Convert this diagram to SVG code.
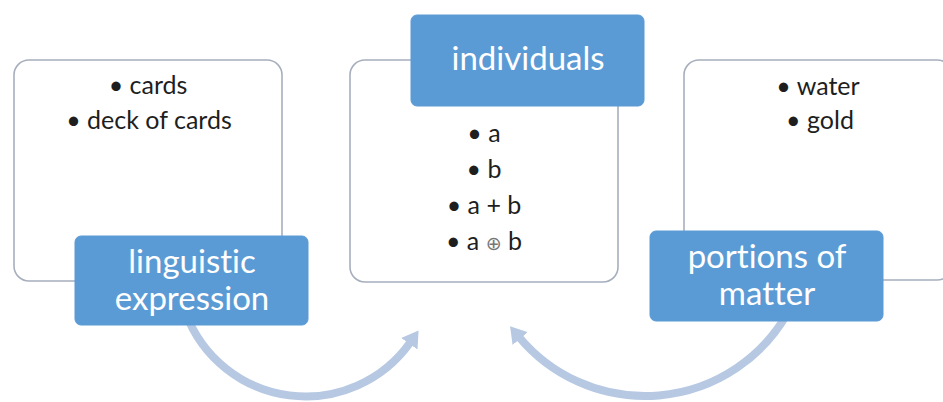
<svg xmlns="http://www.w3.org/2000/svg" width="943" height="402" viewBox="0 0 943 402">
<style>
.frame{fill:#ffffff;stroke:#a7afbd;stroke-width:1.6}
.lab{fill:#5b9bd5;stroke:#5b9bd5;stroke-width:1}
.lt{font-family:Lato,"Open Sans",sans-serif;font-size:33px;fill:#ffffff;text-anchor:middle;font-variant-ligatures:none}
.bt{font-family:Lato,"Open Sans",sans-serif;font-size:25px;fill:#1e1e1e;text-anchor:middle;font-variant-ligatures:none}
.arc{fill:none;stroke:#b6c8e2;stroke-width:8;stroke-linecap:butt}
</style>
<defs>
<marker id="ah" markerUnits="userSpaceOnUse" markerWidth="24" markerHeight="24" refX="2" refY="12" orient="auto">
<path d="M0,2 L16,12 L0,22 Z" fill="#b6c8e2"/>
</marker>
</defs>
<rect width="943" height="402" fill="#ffffff"/>
<g id="connectors">
<path class="arc" d="M185.7,312.8 A128,128 0 0 0 410.5,342" marker-end="url(#ah)"/>
<path class="arc" d="M787,314 A164,164 0 0 1 519,337" marker-end="url(#ah)"/>
</g>
<g id="node-linguistic">
<rect class="frame" x="14" y="60" width="268" height="221" rx="15"/>
<text class="bt" x="148" y="94">• cards</text>
<text class="bt" x="149" y="129">• deck of cards</text>
<rect class="lab" x="75" y="236" width="233" height="89" rx="6"/>
<text class="lt" x="192" y="273">linguistic</text>
<text class="lt" x="192" y="310">expression</text>
</g>
<g id="node-individuals">
<rect class="frame" x="350" y="60" width="268" height="222" rx="15"/>
<rect class="lab" x="411" y="15" width="233" height="91" rx="6"/>
<text class="lt" x="528" y="70">individuals</text>
<text class="bt" x="484" y="142">• a</text>
<text class="bt" x="484" y="178">• b</text>
<text class="bt" x="484" y="214">• a + b</text>
<text class="bt" x="484" y="250">• a <tspan fill="#777777" font-family="'DejaVu Sans',sans-serif" font-size="19px">⊕</tspan> b</text>
</g>
<g id="node-portions">
<rect class="frame" x="684" y="60" width="268" height="220" rx="15"/>
<text class="bt" x="818" y="95">• water</text>
<text class="bt" x="820" y="129">• gold</text>
<rect class="lab" x="650" y="231" width="233" height="90" rx="6"/>
<text class="lt" x="767" y="268">portions of</text>
<text class="lt" x="767" y="305">matter</text>
</g>
</svg>
